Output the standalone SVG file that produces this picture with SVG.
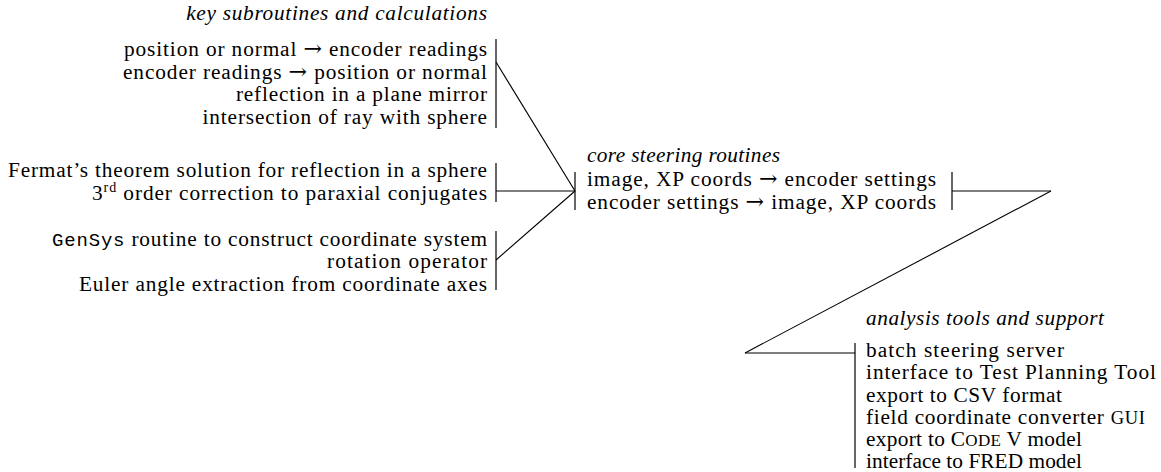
<svg xmlns="http://www.w3.org/2000/svg" width="1161" height="472" viewBox="0 0 1161 472">
<style>
  text { font-family: "Liberation Serif", "Times New Roman", serif; font-size: 21.3px; fill: #000; }
  .it { font-style: italic; }
  .r { text-anchor: end; }
  .tt { font-family: "Liberation Mono", "Courier New", monospace; font-size: 19px; }
  .sc { font-size: 17px; }
  .gui { font-size: 18.5px; }
  .sup { font-size: 14px; }
  .ar { font-family: "DejaVu Serif", serif; font-size: 22px; }
  .bar { stroke: #000; stroke-width: 1.2; fill: none; }
  .conn { stroke: #000; stroke-width: 1.1; fill: none; }
</style>
<rect width="1161" height="472" fill="#fff"/>

<g id="connectors">
  <line class="conn" x1="496" y1="62" x2="575" y2="191"/>
  <line class="conn" x1="496" y1="191" x2="575" y2="191"/>
  <line class="conn" x1="496" y1="260" x2="575" y2="191"/>
  <line class="conn" x1="952" y1="191" x2="1051" y2="191"/>
  <line class="conn" x1="1051" y1="191" x2="745" y2="353"/>
  <line class="conn" x1="745" y1="353" x2="855" y2="353"/>
</g>

<g id="key-subroutines">
  <text class="it r" x="487" y="20" textLength="300.8" lengthAdjust="spacing">key subroutines and calculations</text>
</g>

<g id="subroutines-steering">
  <line class="bar" x1="496" y1="39" x2="496" y2="128"/>
  <text class="r" x="487" y="56" textLength="363" lengthAdjust="spacing">position or normal <tspan class="ar">→</tspan> encoder readings</text>
  <text class="r" x="487" y="78.5" textLength="364" lengthAdjust="spacing">encoder readings <tspan class="ar">→</tspan> position or normal</text>
  <text class="r" x="487" y="101" textLength="251.1" lengthAdjust="spacing">reflection in a plane mirror</text>
  <text class="r" x="487" y="123.5" textLength="284.4" lengthAdjust="spacing">intersection of ray with sphere</text>
</g>

<g id="subroutines-optics">
  <line class="bar" x1="496" y1="163" x2="496" y2="202"/>
  <text class="r" x="487" y="177" textLength="479" lengthAdjust="spacing">Fermat’s theorem solution for reflection in a sphere</text>
  <text class="r" x="487" y="199.5" textLength="395" lengthAdjust="spacing">3<tspan class="sup" dy="-7.5">rd</tspan><tspan dy="7.5"> order correction to paraxial conjugates</tspan></text>
</g>

<g id="subroutines-coordinates">
  <line class="bar" x1="496" y1="231" x2="496" y2="290"/>
  <text class="r" x="487" y="245.5" textLength="435" lengthAdjust="spacing"><tspan class="tt">GenSys</tspan> routine to construct coordinate system</text>
  <text class="r" x="487" y="268" textLength="160" lengthAdjust="spacing">rotation operator</text>
  <text class="r" x="487" y="290.5" textLength="408" lengthAdjust="spacing">Euler angle extraction from coordinate axes</text>
</g>

<g id="core-steering">
  <line class="bar" x1="575" y1="172" x2="575" y2="210"/>
  <line class="bar" x1="952" y1="172" x2="952" y2="210"/>
  <text class="it" x="587" y="162" textLength="193" lengthAdjust="spacing">core steering routines</text>
  <text x="587" y="186" textLength="349" lengthAdjust="spacing">image, XP coords <tspan class="ar">→</tspan> encoder settings</text>
  <text x="587" y="208.5" textLength="349" lengthAdjust="spacing">encoder settings <tspan class="ar">→</tspan> image, XP coords</text>
</g>

<g id="analysis-tools">
  <line class="bar" x1="855" y1="343" x2="855" y2="468"/>
  <text class="it" x="866" y="325" textLength="238" lengthAdjust="spacing">analysis tools and support</text>
  <text x="866" y="357" textLength="198" lengthAdjust="spacing">batch steering server</text>
  <text x="866" y="379" textLength="290" lengthAdjust="spacing">interface to Test Planning Tool</text>
  <text x="866" y="401.5" textLength="196" lengthAdjust="spacing">export to CSV format</text>
  <text x="866" y="423.5" textLength="279" lengthAdjust="spacing">field coordinate converter <tspan class="gui">GUI</tspan></text>
  <text x="866" y="445.5" textLength="216" lengthAdjust="spacing">export to C<tspan class="sc">ODE</tspan> V model</text>
  <text x="866" y="467.5" textLength="216" lengthAdjust="spacing">interface to FRED model</text>
</g>
</svg>
